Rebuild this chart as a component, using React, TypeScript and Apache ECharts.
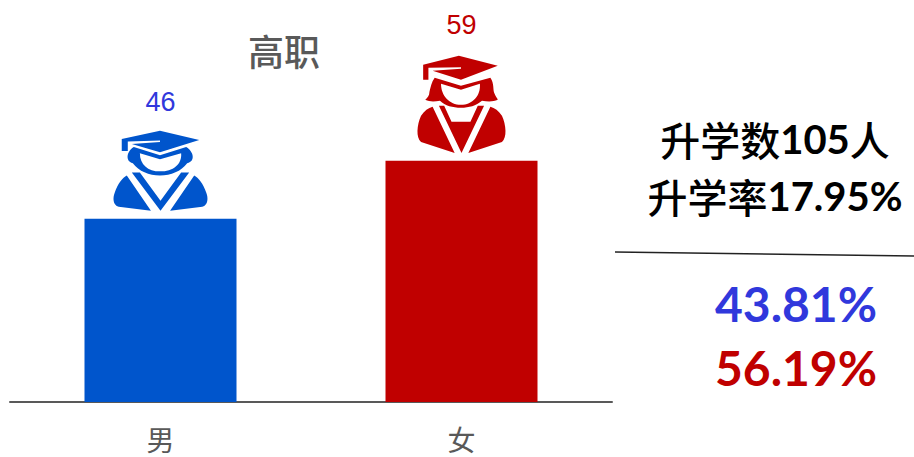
import React, { useEffect, useRef } from "react";
import * as echarts from "echarts";

const categories = ["男", "女"];
const counts = [46, 59];
const barColors = ["#0055CC", "#C00000"];
const labelColors = ["#3038DC", "#C00000"];
const chartTitle = "高职";
const summaryCount = "105";
const summaryRate = "17.95%";
const shares = ["43.81%", "56.19%"];

const maleIcon =
  "path://M21,20 L59,12 L98,21 L59,33 L31,25 L59,23 L59,21.5 L27,22.5 L27,32 L21,32 Z " +
  "M33,28 L59,36 L85,28 C92,32 95,42 86,44 C80,52 70,56 59,56 C48,56 38,52 32,44 C24,42 26,32 33,28 Z " +
  "M39,34 C39,45 47,52 59,52 C72,52 81,45 80,34 L59,40 Z " +
  "M26,56 L50,91 L18,87 C12,85 12,78 14,73 C17,64 22,58 26,56 Z " +
  "M93,56 L69,91 L101,87 C107,85 107,78 105,73 C102,64 97,58 93,56 Z " +
  "M31,53 L39,53 L59.5,81 L80,53 L88,53 L59.5,91 Z";

const femaleIcon =
  "path://M16,15 L50,6 L87,16 L52,30 L25,21 L52,19 L52,17.5 L21,18 L21,30 L16,30 Z " +
  "M27,28 L52,36 L80,28 C84,34 82,40 84,44 C85,47 87,49 87,50 C83,52 78,52 72,51 C66,56 60,58 52,58 C44,58 37,56 32,51 C26,52 22,52 18,50 C20,48 22,46 22,42 C23,38 24,32 27,28 Z " +
  "M33,34 C33,46 41,55 52,55 C63,55 71,46 70,34 L52,40 Z " +
  "M25,57 L46,103 L14,92 C9,88 10,75 14,66 C17,61 21,58 25,57 Z " +
  "M80,57 C84,58 88,61 91,66 C95,75 96,88 91,92 L59,103 Z " +
  "M31,56 L36,56 L43,72 L61,72 L68,56 L74,56 L52.5,103 Z";

const icons = [maleIcon, femaleIcon];
const iconSizes = [[94, 80], [88, 97]];

export default function App() {
  const ref = useRef<HTMLDivElement>(null);
  useEffect(() => {
    const chart = echarts.init(ref.current!, undefined, { renderer: "svg" });
    const cjk = '"Noto Sans CJK SC", sans-serif';
    const latin = "Lato, sans-serif";
    chart.setOption({
      animation: false,
      backgroundColor: "#FFFFFF",
      grid: { left: 10, top: 0, width: 602, height: 402 },
      xAxis: {
        type: "category",
        data: categories,
        axisTick: { show: false },
        axisLine: { lineStyle: { color: "#595959", width: 2 } },
        axisLabel: { color: "#595959", fontSize: 28, fontWeight: 400, fontFamily: '"Liberation Sans", "Noto Sans CJK SC", sans-serif', margin: 25 },
      },
      yAxis: { type: "value", min: 5, max: 95, show: false },
      series: [
        {
          type: "bar",
          barWidth: 152,
          data: counts.map((v, i) => ({
            value: v,
            itemStyle: { color: barColors[i] },
            label: {
              show: true,
              position: "top",
              distance: 0,
              offset: [0, -(i === 0 ? 103 : 122)],
              color: labelColors[i],
              fontSize: 27,
              fontFamily: '"Liberation Sans", sans-serif',
            },
          })),
        },
        {
          type: "pictorialBar",
          barGap: "-100%",
          barWidth: 152,
          symbolPosition: "end",
          data: counts.map((v, i) => ({
            value: v,
            symbol: icons[i],
            symbolSize: iconSizes[i],
            symbolOffset: [0, -(iconSizes[i][1] + 8)],
            itemStyle: { color: barColors[i] },
          })),
        },
      ],
      graphic: [
        { type: "text", x: 284, y: 50, style: { text: chartTitle, fill: "#595959", fontSize: 36, fontWeight: 500, fontFamily: cjk, textAlign: "center", textVerticalAlign: "middle" } },
        {
          type: "text", x: 775, y: 139,
          style: {
            text: `{c|升学数}{n|${summaryCount}}{c|人}`,
            textAlign: "center", textVerticalAlign: "middle",
            rich: {
              c: { fontSize: 40, fontWeight: 500, fontFamily: cjk, fill: "#000000" },
              n: { fontSize: 40, fontWeight: "bold", fontFamily: latin, fill: "#000000" },
            },
          },
        },
        {
          type: "text", x: 775, y: 196,
          style: {
            text: `{c|升学率}{n|${summaryRate}}`,
            textAlign: "center", textVerticalAlign: "middle",
            rich: {
              c: { fontSize: 40, fontWeight: 500, fontFamily: cjk, fill: "#000000" },
              n: { fontSize: 40, fontWeight: "bold", fontFamily: latin, fill: "#000000" },
            },
          },
        },
        { type: "line", shape: { x1: 615, y1: 252, x2: 914, y2: 256 }, style: { stroke: "#222222", lineWidth: 1.4 } },
        { type: "text", x: 796, y: 303, style: { text: shares[0], fill: "#3038DC", fontSize: 48, fontWeight: "bold", fontFamily: latin, textAlign: "center", textVerticalAlign: "middle" } },
        { type: "text", x: 796, y: 367, style: { text: shares[1], fill: "#C00000", fontSize: 48, fontWeight: "bold", fontFamily: latin, textAlign: "center", textVerticalAlign: "middle" } },
      ],
    });
    return () => chart.dispose();
  }, []);
  return <div ref={ref} style={{ position: "absolute", left: 0, top: 0, width: 914, height: 457 }} />;
}
